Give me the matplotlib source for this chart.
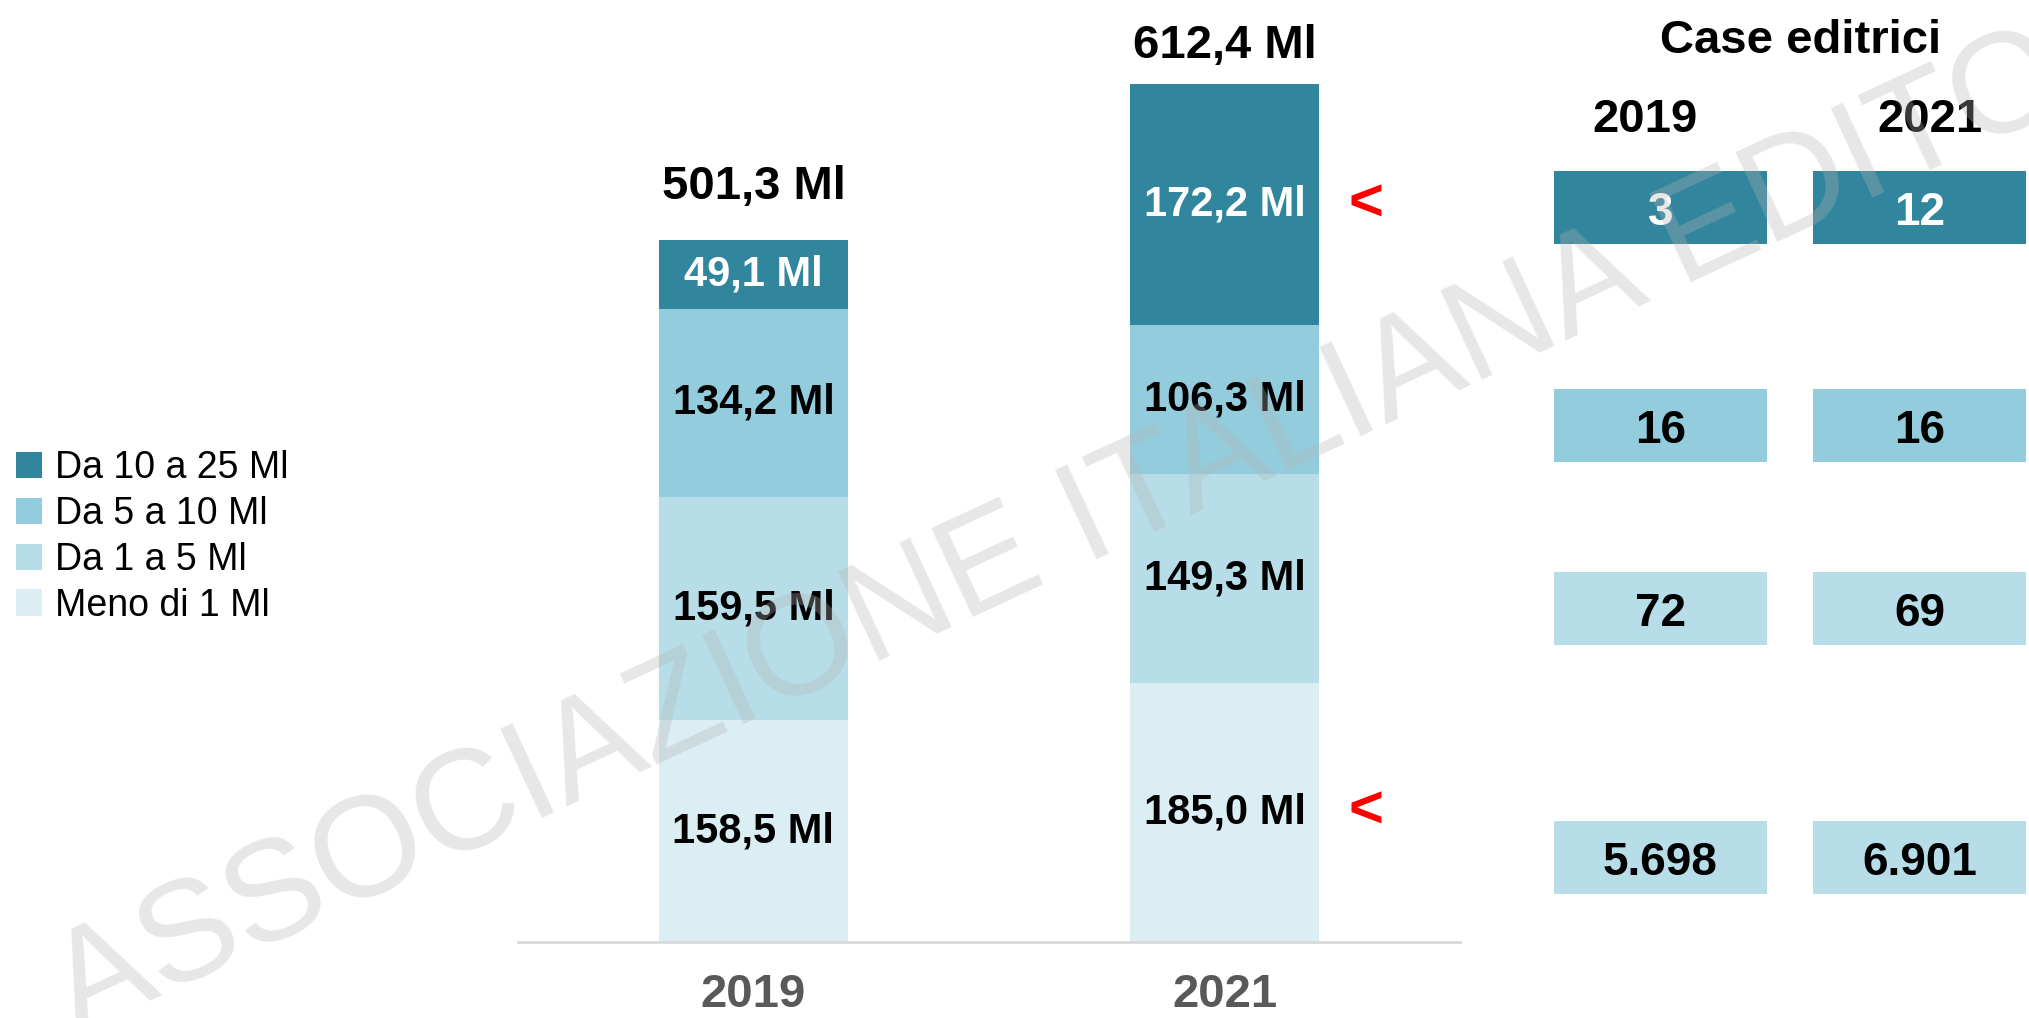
import numpy as np
import matplotlib
matplotlib.use('Agg')
from matplotlib import pyplot as plt

plt.rcParams['font.family'] = ['Liberation Sans', 'DejaVu Sans']

# data
years = ['2019', '2021']
series_names = ['Meno di 1 Ml', 'Da 1 a 5 Ml', 'Da 5 a 10 Ml', 'Da 10 a 25 Ml']
meno_1 = [158.5, 185.0]
da_1_5 = [159.5, 149.3]
da_5_10 = [134.2, 106.3]
da_10_25 = [49.1, 172.2]
totals = [501.3, 612.4]
flagged = [(1, 0), (1, 3)]  # (year index, series index) marked with a red "<"

case_years = ['2019', '2021']
case_2019 = [3, 16, 72, 5698]
case_2021 = [12, 16, 69, 6901]

colors = ['#DAEEF3', '#B7DEE8', '#93CDDD', '#31859C']
text_colors = ['black', 'black', 'black', 'white']
case_colors = ['#31859C', '#93CDDD', '#B7DEE8', '#B7DEE8']
case_text_colors = ['white', 'black', 'black', 'black']


def fmt_ml(v):
    return f"{v:.1f}".replace('.', ',') + " Ml"


def fmt_int(v):
    return f"{v:,}".replace(',', '.')


W, H = 2029, 1018
fig = plt.figure(figsize=(W / 100, H / 100), dpi=100)

#1 stacked bars
ax = fig.add_axes([518 / W, 76 / H, 942 / W, 942 / H])
series = [meno_1, da_1_5, da_5_10, da_10_25]
x = np.arange(len(years))
bottom = np.zeros(len(years))
bars = []
for vals, name, c, tc in zip(series, series_names, colors, text_colors):
    b = ax.bar(x, vals, 0.4, bottom=bottom, color=c, label=name, zorder=2)
    bars.append(b)
    for xi, v, b0 in zip(x, vals, bottom):
        ax.text(xi, b0 + v / 2, fmt_ml(v), ha='center', va='center',
                fontsize=30, fontweight='bold', color=tc, zorder=3)
    bottom = bottom + np.array(vals)

label_pad = [38, 27.6]
for xi, t, p in zip(x, totals, label_pad):
    ax.text(xi, t + p, fmt_ml(t), ha='center', va='center',
            fontsize=34, fontweight='bold', color='black')

# red markers
cum = np.cumsum(np.array(series), axis=0)
for yi, si in flagged:
    lo = cum[si - 1][yi] if si > 0 else 0
    ax.text(x[yi] + 0.3, lo + series[si][yi] / 2, '<', color='red',
            fontsize=43, fontweight='bold', ha='center', va='center')

ax.set_xlim(-0.5, 1.5)
ax.set_ylim(0, 673)
ax.set_xticks(x)
ax.set_xticklabels(years, fontsize=34, fontweight='bold', color='#595959')
ax.tick_params(axis='x', length=0, pad=22)
ax.set_yticks([])
for s in ['top', 'right', 'left']:
    ax.spines[s].set_visible(False)
ax.spines['bottom'].set_color('#d9d9d9')
ax.spines['bottom'].set_linewidth(2)

fig.legend(handles=bars[::-1], labels=series_names[::-1], loc='center left',
           bbox_to_anchor=(16 / W, 1 - 537 / H), frameon=False, fontsize=27,
           handlelength=0.7, handleheight=0.7, handletextpad=0.35,
           labelspacing=0.26, borderpad=0, borderaxespad=0)

#2 case editrici table
ax_t = fig.add_axes([1554 / W, 0, 475 / W, 1])
ax_t.set_xlim(-0.411, 1.423)
ax_t.set_ylim(H, 0)
ax_t.axis('off')
row_y = np.array([207, 425, 608, 857])
box_h = 73
header_dx = [-0.06, 0.04]
for ci, vals in enumerate([case_2019, case_2021]):
    ax_t.bar([ci] * len(vals), box_h, bottom=row_y - box_h / 2, width=0.822,
             color=case_colors)
    for ry, v, tc in zip(row_y, vals, case_text_colors):
        ax_t.text(ci, ry + 6, fmt_int(v), ha='center', va='center',
                  fontsize=33, fontweight='bold', color=tc)
    ax_t.text(ci + header_dx[ci], 120, case_years[ci], ha='center', va='center',
              fontsize=34, fontweight='bold', color='black')
ax_t.text(0.54, 41, 'Case editrici', ha='center', va='center',
          fontsize=34, fontweight='bold', color='black')

#3 watermark
fig.text(1140 / W, 1 - 539 / H, 'ASSOCIAZIONE ITALIANA EDITORI',
         fontsize=103, color='#b4b4b4', alpha=0.32, rotation=25,
         rotation_mode='anchor', ha='center', va='baseline', zorder=10)

fig.savefig('out.png', dpi=100)
